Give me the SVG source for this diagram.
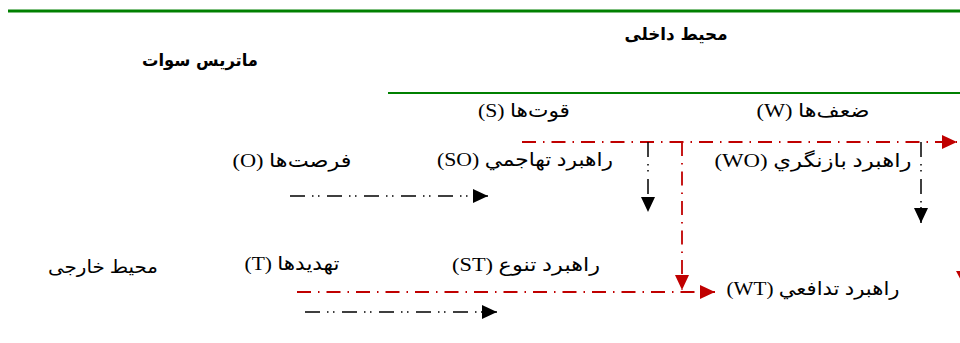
<svg xmlns="http://www.w3.org/2000/svg" width="960" height="343" viewBox="0 0 960 343">
<style>
.t{font-family:"Liberation Serif","DejaVu Sans",serif;font-size:19px;fill:#000;direction:rtl;text-anchor:middle}
.b{font-family:"DejaVu Sans","Liberation Serif",serif;font-size:17px;font-weight:bold;fill:#000;direction:rtl;text-anchor:middle}
.s{font-size:18px}
.red{stroke:#c00000;stroke-width:1.8;fill:none;stroke-dasharray:14,7,1.5,7}
.blk{stroke:#000;stroke-width:1.5;fill:none;stroke-dasharray:15,7,1.5,4.5,1.5,7.5}
.g{stroke:#008000;fill:none}
</style>
<defs>
<marker id="ab" markerUnits="userSpaceOnUse" markerWidth="15" markerHeight="14" refX="15" refY="7" orient="auto">
<path d="M0,0 L15,7 L0,14 z" fill="#000"/>
</marker>
<marker id="ar" markerUnits="userSpaceOnUse" markerWidth="15" markerHeight="14" refX="15" refY="7" orient="auto">
<path d="M0,0 L15,7 L0,14 z" fill="#c00000"/>
</marker>
</defs>
<rect width="960" height="343" fill="#fff"/>
<g id="frame">
<line class="g" x1="8" y1="11" x2="960" y2="11" stroke-width="3"/>
<line class="g" x1="388" y1="93" x2="960" y2="93" stroke-width="2"/>
</g>
<g id="title"><text class="b" x="200" y="66" textLength="116" lengthAdjust="spacingAndGlyphs">ماتریس سوات</text></g>
<g id="internal"><text class="b" x="676" y="40" textLength="103" lengthAdjust="spacingAndGlyphs">محیط داخلی</text></g>
<g id="external"><text class="t s" x="103" y="273" textLength="110" lengthAdjust="spacingAndGlyphs">محیط خارجی</text></g>
<g id="S"><text class="t" x="524" y="117" textLength="92" lengthAdjust="spacingAndGlyphs">قوت‌ها (S)</text></g>
<g id="W"><text class="t" x="813" y="117" textLength="113" lengthAdjust="spacingAndGlyphs">ضعف‌ها (W)</text></g>
<g id="O"><text class="t" x="292" y="167" textLength="119" lengthAdjust="spacingAndGlyphs">فرصت‌ها (O)</text></g>
<g id="T"><text class="t" x="292" y="270" textLength="95" lengthAdjust="spacingAndGlyphs">تهدیدها (T)</text></g>
<g id="SO"><text class="t" x="525" y="166" textLength="176" lengthAdjust="spacingAndGlyphs">راهبرد تهاجمي (SO)</text></g>
<g id="WO"><text class="t" x="813" y="167" textLength="197" lengthAdjust="spacingAndGlyphs">راهبرد بازنگري (WO)</text></g>
<g id="ST"><text class="t" x="526" y="271" textLength="148" lengthAdjust="spacingAndGlyphs">راهبرد تنوع (ST)</text></g>
<g id="WT"><text class="t" x="813" y="295" textLength="173" lengthAdjust="spacingAndGlyphs">راهبرد تدافعي (WT)</text></g>
<g id="connectors">
<line class="blk" x1="290" y1="196" x2="488" y2="196" marker-end="url(#ab)"/>
<line class="red" x1="522" y1="142" x2="957" y2="142" marker-end="url(#ar)"/>
<line class="blk" x1="648" y1="142" x2="648" y2="212" marker-end="url(#ab)"/>
<line class="red" x1="682" y1="142" x2="682" y2="290" marker-end="url(#ar)"/>
<line class="blk" x1="921" y1="142" x2="921" y2="223" marker-end="url(#ab)"/>
<line class="red" x1="297" y1="292" x2="715" y2="292" marker-end="url(#ar)"/>
<line class="blk" x1="305" y1="312" x2="497" y2="312" marker-end="url(#ab)"/>
<polygon points="956,271 970,271 963,284" fill="#c00000"/>
</g>
</svg>
